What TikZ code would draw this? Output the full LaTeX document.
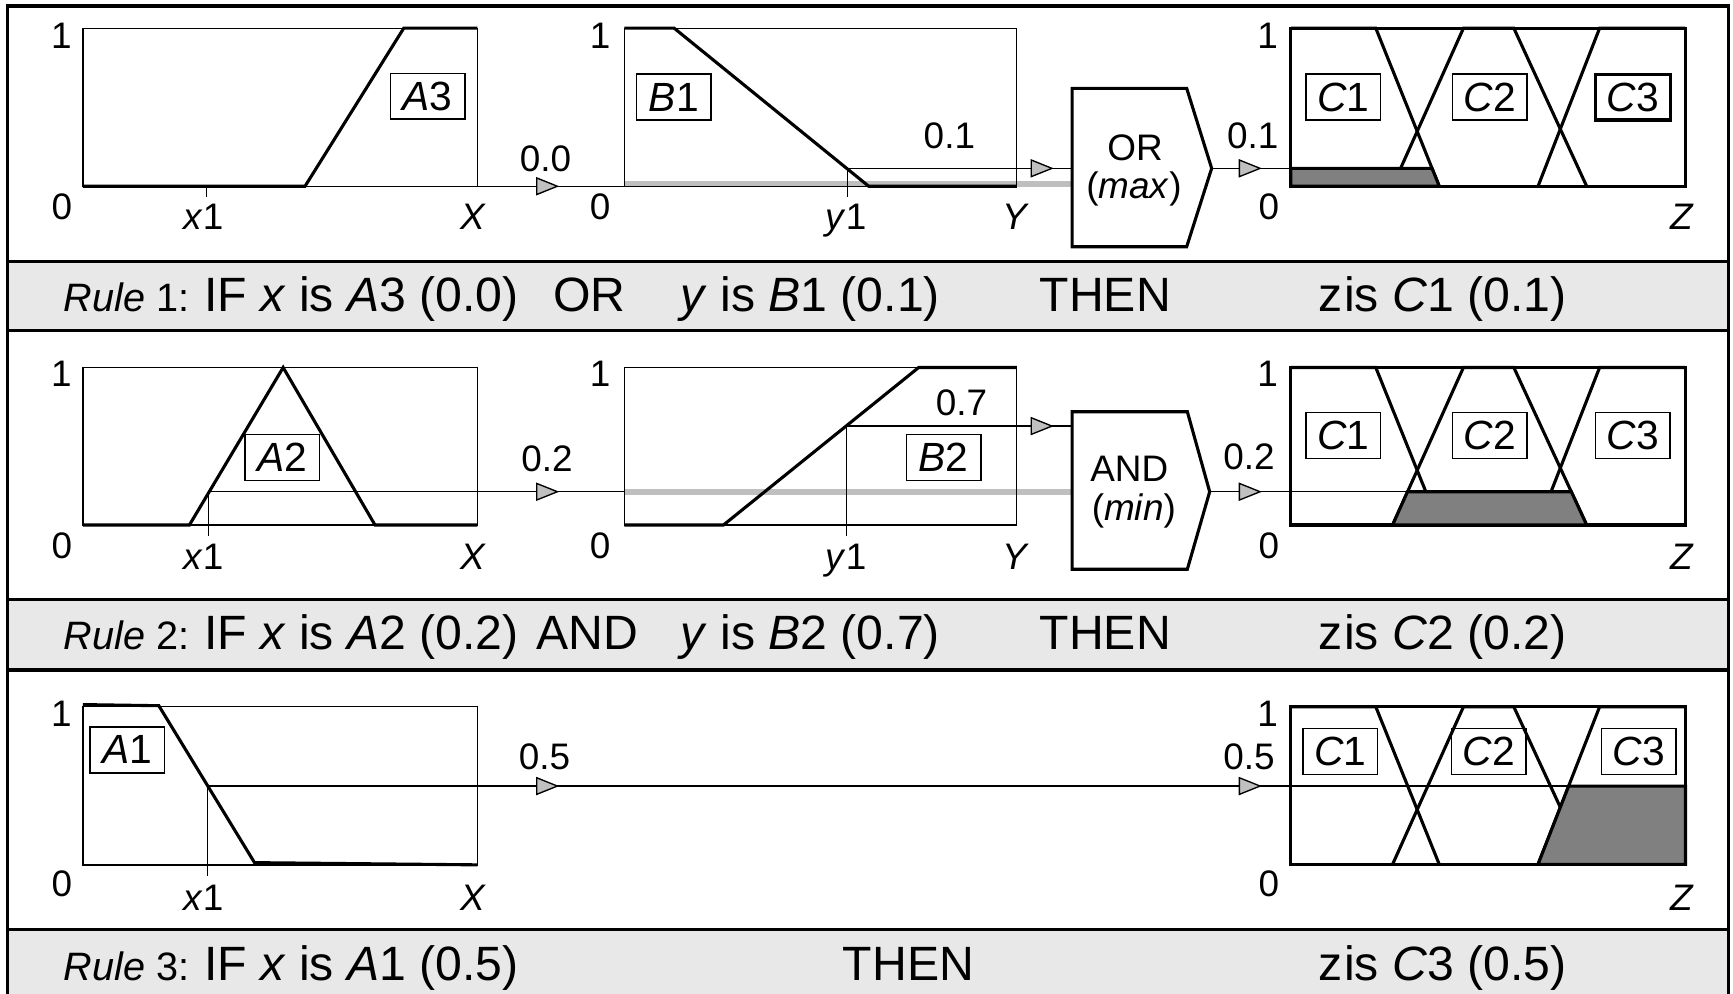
\documentclass[tikz,border=0pt]{standalone}
\usepackage{fontspec}
\setmainfont{Liberation Sans}
\usetikzlibrary{arrows.meta}
\definecolor{bandgray}{HTML}{E8E8E8}
\definecolor{arrowgray}{HTML}{C0C0C0}
\definecolor{shadegray}{HTML}{808080}
\definecolor{linegray}{HTML}{BFBFBF}
\begin{document}
\begin{tikzpicture}[x=0.1mm,y=-0.1mm,
  thinline/.style={line width=0.35pt},
  mf/.style={line width=0.8pt, line join=miter},
  frameline/.style={line width=0.9pt},
  plotbox/.style={line width=0.35pt},
  cbox/.style={line width=0.8pt},
  lbl/.style={draw, line width=0.35pt, minimum width=6.75mm, minimum height=4.15mm, inner sep=0pt, font=\fontsize{10.5}{12}\selectfont},
  lblthick/.style={lbl, line width=0.8pt},
  ax/.style={anchor=base, inner sep=0pt, font=\fontsize{9.5}{11}\selectfont},
  gatetxt/.style={anchor=base, inner sep=0pt, font=\fontsize{9.5}{11}\selectfont},
  bandtxt/.style={anchor=base west, inner sep=0pt, font=\fontsize{12.4}{14}\selectfont},
  ruletxt/.style={anchor=base west, inner sep=0pt, font=\fontsize{10.2}{12}\selectfont},
  tipline/.style={line width=0.35pt, -{Triangle[length=2.1mm,width=1.65mm,fill=arrowgray]}},
  grayline/.style={line width=1.5pt, draw=linegray},
  shade/.style={fill=shadegray, draw=black, line width=0.8pt, line join=miter},
  gate/.style={fill=white, draw=black, line width=0.8pt, line join=miter}
]
\useasboundingbox (0,0) rectangle (1568,899);

% ---------- frame and bands ----------
\fill[bandgray] (6.9,236.8) rectangle (1564,299.2);
\fill[bandgray] (6.9,542.3) rectangle (1564,606.2);
\fill[bandgray] (6.9,840.9) rectangle (1564,899);
\draw[frameline] (6.9,899) -- (6.9,5.4) -- (1564,5.4) -- (1564,899);
\foreach \yy in {236.8,299.2,542.3,606.2,840.9}
  \draw[frameline] (6.9,\yy) -- (1564,\yy);

% ================= ROW 1 =================
\coordinate (r1gA) at (565,166.5);
\coordinate (r1gB) at (970,166.5);
\draw[grayline] (r1gA) -- (r1gB);
\draw[plotbox] (75,25.5) rectangle (432,168.5);
\draw[plotbox] (565,25.5) rectangle (920,168.5);
% A3
\draw[mf] (75,168.5) -- (276,168.5) -- (365.3,25.5) -- (432,25.5);
\node[lbl] (lA3) at (387,87) {\textit{A}3};
\coordinate (r1x1) at (187,168.5);
\coordinate (r1x1b) at (187,178);
\coordinate (r1Bin) at (565,168.5);
\coordinate (r1t1) at (506,168.5);
\draw[thinline] (r1x1) -- (r1x1b);
\draw[thinline] (r1x1) -- (r1Bin);
\draw[tipline] (r1x1) -- (r1t1);
% B1
\draw[mf] (565,25.5) -- (610,25.5) -- (786,168.5) -- (920,168.5);
\node[lbl] (lB1) at (609.6,87.8) {\textit{B}1};
\coordinate (r1y1) at (767,152.3);
\coordinate (r1y1b) at (767,178);
\coordinate (orin) at (970,152.3);
\coordinate (r1t2) at (953.5,152.3);
\draw[thinline] (r1y1) -- (r1y1b);
\draw[thinline] (r1y1) -- (orin);
\draw[tipline] (r1y1) -- (r1t2);
% OR gate
\draw[gate] (970,79.9) -- (1073.7,79.9) -- (1096.3,152.3) -- (1073.7,223.2) -- (970,223.2) -- cycle;
\coordinate (ortip) at (1096.3,152.3);
\node[gatetxt] (orA) at (1027,145) {OR};
\node[gatetxt] (orB) at (1026,180) {(\textit{max})};
% C plot row 1
\coordinate (r1cut) at (1295.7,152.3);
\coordinate (r1t3) at (1141.8,152.3);
\draw[thinline] (ortip) -- (r1cut);
\draw[tipline] (ortip) -- (r1t3);
\draw[cbox] (1168,25.5) rectangle (1525,168.5);
\draw[mf] (1168,25.5) -- (1244.8,25.5) -- (1302.2,168.5);
\draw[mf] (1260,168.5) -- (1324.1,25.5) -- (1369.7,25.5) -- (1435.6,168.5);
\draw[mf] (1391.6,168.5) -- (1447.3,25.5) -- (1525,25.5);
\draw[shade] (1168,152.3) -- (r1cut) -- (1302.2,168.5) -- (1168,168.5) -- cycle;
\node[lbl] (r1C1) at (1215.5,87.8) {\textit{C}1};
\node[lbl] (r1C2) at (1348,87.8) {\textit{C}2};
\node[lblthick] (r1C3) at (1477.3,87.8) {\textit{C}3};
% axis labels row 1
\node[ax] (r1a1) at (55.5,43.7) {1};
\node[ax] (r1a0) at (56,199) {0};
\node[ax] (r1ax) at (184,208) {\textit{x}1};
\node[ax] (r1aX) at (428.5,208) {\textit{X}};
\node[ax] (r1b1) at (543,43.7) {1};
\node[ax] (r1b0) at (543,199) {0};
\node[ax] (r1by) at (765.5,208) {\textit{y}1};
\node[ax] (r1bY) at (918.8,208) {\textit{Y}};
\node[ax] (r1c1) at (1147,43.7) {1};
\node[ax] (r1c0) at (1148,199) {0};
\node[ax] (r1cZ) at (1521.7,208) {\textit{Z}};
\node[ax] (r1v1) at (493.5,155) {0.0};
\node[ax] (r1v2) at (859,134) {0.1};
\node[ax] (r1v3) at (1133.4,134) {0.1};
% band 1 text
\node[ruletxt] (b1r) at (57,281.5) {\textit{Rule} 1:};
\node[bandtxt] (b1a) at (184,281.5) {IF \textit{x} is \textit{A}3 (0.0)};
\node[bandtxt] (b1b) at (500,281.5) {OR};
\node[bandtxt] (b1c) at (615,281.5) {\textit{y} is \textit{B}1 (0.1)};
\node[bandtxt] (b1d) at (940,281.5) {THEN};
\node[bandtxt] (b1e) at (1192,281.5) {z\kern0.5pt is \textit{C}1 (0.1)};

% ================= ROW 2 =================
\coordinate (r2gA) at (565,444.9);
\coordinate (r2gB) at (970,444.9);
\draw[grayline] (r2gA) -- (r2gB);
\draw[plotbox] (75,332.5) rectangle (432,475);
\draw[plotbox] (565,332.5) rectangle (920,475);
% A2
\draw[mf] (75,475) -- (171.4,475) -- (256.2,332.5) -- (339.3,475) -- (432,475);
\node[lbl] (lA2) at (255.4,414) {\textit{A}2};
\coordinate (r2x1) at (188.5,444.9);
\coordinate (r2x1b) at (188.5,485);
\coordinate (r2Bin) at (565,444.9);
\coordinate (r2t1) at (506,444.9);
\draw[thinline] (r2x1) -- (r2x1b);
\draw[thinline] (r2x1) -- (r2Bin);
\draw[tipline] (r2x1) -- (r2t1);
% B2
\draw[mf] (565,475) -- (654.6,475) -- (831.2,332.5) -- (920,332.5);
\node[lbl] (lB2) at (853.8,414) {\textit{B}2};
\coordinate (r2y1) at (766,385.5);
\coordinate (r2y1b) at (766,485);
\coordinate (andin) at (970,385.5);
\coordinate (r2t2) at (953.5,385.5);
\draw[thinline] (r2y1) -- (r2y1b);
\draw[thinline] (r2y1) -- (andin);
\draw[tipline] (r2y1) -- (r2t2);
% AND gate
\draw[gate] (970,372.5) -- (1074.3,372.5) -- (1094.5,444.9) -- (1074.3,515) -- (970,515) -- cycle;
\coordinate (andtip) at (1094.5,444.9);
\node[gatetxt] (andA) at (1021.7,435.8) {AND};
\node[gatetxt] (andB) at (1026,471) {(\textit{min})};
% C plot row 2
\coordinate (r2cut) at (1273.5,444.9);
\coordinate (r2t3) at (1141.8,444.9);
\draw[thinline] (andtip) -- (r2cut);
\draw[tipline] (andtip) -- (r2t3);
\draw[cbox] (1168,332.5) rectangle (1525,475);
\draw[mf] (1168,332.5) -- (1244.8,332.5) -- (1302.2,475);
\draw[mf] (1260,475) -- (1324.1,332.5) -- (1369.7,332.5) -- (1435.6,475);
\draw[mf] (1391.6,475) -- (1447.3,332.5) -- (1525,332.5);
\draw[shade] (1260,475) -- (r2cut) -- (1421.7,444.9) -- (1435.6,475) -- cycle;
\node[lbl] (r2C1) at (1215.5,394) {\textit{C}1};
\node[lbl] (r2C2) at (1348,394) {\textit{C}2};
\node[lbl] (r2C3) at (1477.3,394) {\textit{C}3};
% axis labels row 2
\node[ax] (r2a1) at (55.5,350) {1};
\node[ax] (r2a0) at (56,505) {0};
\node[ax] (r2ax) at (184,515.7) {\textit{x}1};
\node[ax] (r2aX) at (428.5,515.7) {\textit{X}};
\node[ax] (r2b1) at (543,350) {1};
\node[ax] (r2b0) at (543,505) {0};
\node[ax] (r2by) at (765.5,515.7) {\textit{y}1};
\node[ax] (r2bY) at (918.8,515.7) {\textit{Y}};
\node[ax] (r2c1) at (1147,350) {1};
\node[ax] (r2c0) at (1148,505) {0};
\node[ax] (r2cZ) at (1521.7,515.7) {\textit{Z}};
\node[ax] (r2v1) at (495,426.8) {0.2};
\node[ax] (r2v2) at (870,375.5) {0.7};
\node[ax] (r2v3) at (1130,424.7) {0.2};
% band 2 text
\node[ruletxt] (b2r) at (57,587.6) {\textit{Rule} 2:};
\node[bandtxt] (b2a) at (184,587.6) {IF \textit{x} is \textit{A}2 (0.2)};
\node[bandtxt] (b2b) at (485,587.6) {AND};
\node[bandtxt] (b2c) at (615,587.6) {\textit{y} is \textit{B}2 (0.7)};
\node[bandtxt] (b2d) at (940,587.6) {THEN};
\node[bandtxt] (b2e) at (1192,587.6) {z\kern0.5pt is \textit{C}2 (0.2)};

% ================= ROW 3 =================
\draw[plotbox] (75,639.5) rectangle (432,782.5);
\draw[mf] (75,637.5) -- (143.7,638.5) -- (230.3,780.5) -- (432,782.5);
\node[lbl] (lA1) at (115.2,678.5) {\textit{A}1};
\coordinate (r3x1) at (188,711.2);
\coordinate (r3x1b) at (188,792.6);
\coordinate (r3t1) at (506,711.2);
\coordinate (r3t2) at (1141.8,711.2);
\coordinate (r3cut) at (1419.3,711.2);
\coordinate (r3end) at (1525,711.2);
\draw[thinline] (r3x1) -- (r3x1b);
\draw[thinline] (r3x1) -- (r3cut);
\draw[tipline] (r3x1) -- (r3t1);
\draw[tipline] (r3t1) -- (r3t2);
\draw[cbox] (1168,639.5) rectangle (1525,782);
\draw[mf] (1168,639.5) -- (1244.8,639.5) -- (1302.2,782);
\draw[mf] (1260,782) -- (1324.1,639.5) -- (1369.7,639.5) -- (1435.6,782);
\draw[mf] (1391.6,782) -- (1447.3,639.5) -- (1525,639.5);
\draw[shade] (1391.6,782) -- (r3cut) -- (r3end) -- (1525,782) -- cycle;
\node[lbl] (r3C1) at (1212.8,680) {\textit{C}1};
\node[lbl] (r3C2) at (1347,680) {\textit{C}2};
\node[lbl] (r3C3) at (1482.8,680) {\textit{C}3};
% axis labels row 3
\node[ax] (r3a1) at (55.5,657.5) {1};
\node[ax] (r3a0) at (56,811.3) {0};
\node[ax] (r3ax) at (184,823.4) {\textit{x}1};
\node[ax] (r3aX) at (428.5,823.4) {\textit{X}};
\node[ax] (r3c1) at (1147,657.5) {1};
\node[ax] (r3c0) at (1148,811.3) {0};
\node[ax] (r3cZ) at (1521.7,823.4) {\textit{Z}};
\node[ax] (r3v1) at (492.6,696) {0.5};
\node[ax] (r3v2) at (1130,696) {0.5};
% band 3 text
\node[ruletxt] (b3r) at (57,887) {\textit{Rule} 3:};
\node[bandtxt] (b3a) at (184,887) {IF \textit{x} is \textit{A}1 (0.5)};
\node[bandtxt] (b3d) at (762,887) {THEN};
\node[bandtxt] (b3e) at (1192,887) {z\kern0.5pt is \textit{C}3 (0.5)};
\end{tikzpicture}
\end{document}
